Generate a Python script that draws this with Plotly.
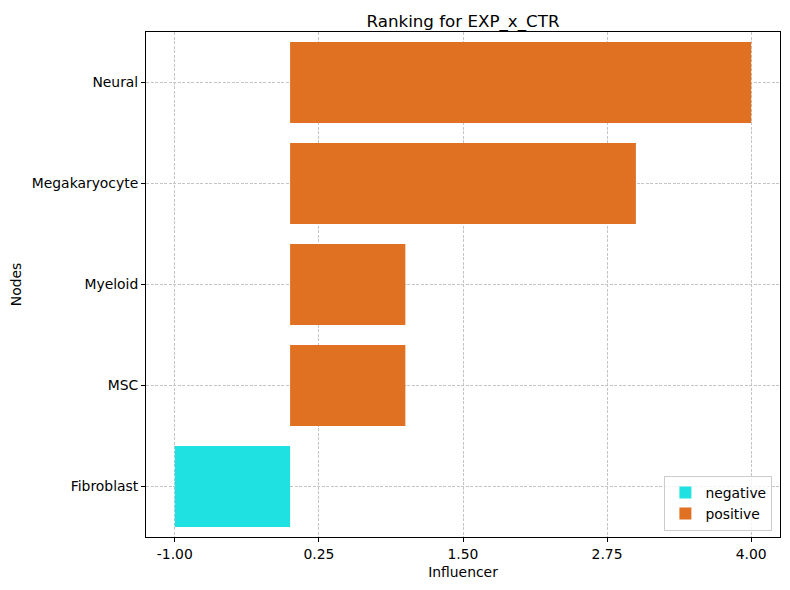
import plotly.graph_objects as go

nodes = ["Fibroblast", "MSC", "Myeloid", "Megakaryocyte", "Neural"]
values = [-1.0, 1.0, 1.0, 3.0, 4.0]
x_ticks = [-1.00, 0.25, 1.50, 2.75, 4.00]
x_tick_labels = ["-1.00", "0.25", "1.50", "2.75", "4.00"]

neg_nodes = [n for n, v in zip(nodes, values) if v < 0]
neg_vals = [v for v in values if v < 0]
pos_nodes = [n for n, v in zip(nodes, values) if v >= 0]
pos_vals = [v for v in values if v >= 0]

FS = 13.9
font = dict(family="DejaVu Sans", size=FS, color="#000000")

fig = go.Figure()
fig.add_trace(go.Bar(y=neg_nodes, x=neg_vals, orientation="h", name="negative",
                     marker=dict(color="#20E1E1", line=dict(width=0)), width=0.8))
fig.add_trace(go.Bar(y=pos_nodes, x=pos_vals, orientation="h", name="positive",
                     marker=dict(color="#E07122", line=dict(width=0)), width=0.8))

fig.update_layout(
    width=790, height=590,
    margin=dict(l=146, r=10, t=32, b=53),
    plot_bgcolor="white", paper_bgcolor="white",
    barmode="overlay",
    font=font,
    title=dict(text="Ranking for EXP_x_CTR", x=0.5, xref="paper", xanchor="center",
               y=1, yref="paper", yanchor="bottom", pad=dict(b=5),
               font=dict(family="DejaVu Sans", size=16.7, color="#000000")),
    legend=dict(x=0.988, y=0.012, xanchor="right", yanchor="bottom",
                bgcolor="rgba(255,255,255,0.8)", bordercolor="#cccccc", borderwidth=1,
                font=dict(family="DejaVu Sans", size=FS), traceorder="normal",
                itemwidth=30),
    xaxis=dict(range=[-1.25, 4.25], tickvals=x_ticks, ticktext=x_tick_labels,
               showline=True, linecolor="black", linewidth=1, mirror=True,
               ticks="outside", ticklen=4, tickcolor="black",
               showgrid=True, gridcolor="#c4c4c4", griddash="3px,1.5px", gridwidth=0.7,
               zeroline=False,
               title=dict(text="Influencer", font=dict(family="DejaVu Sans", size=FS), standoff=6)),
    yaxis=dict(type="category", categoryorder="array", categoryarray=nodes,
               range=[-0.5, 4.5],
               showline=True, linecolor="black", linewidth=1, mirror=True,
               ticks="outside", ticklen=4, tickcolor="black",
               showgrid=True, gridcolor="#c4c4c4", griddash="3px,1.5px", gridwidth=0.7,
               title=dict(text="Nodes", font=dict(family="DejaVu Sans", size=FS), standoff=6)),
)

fig.write_html("out.html")
